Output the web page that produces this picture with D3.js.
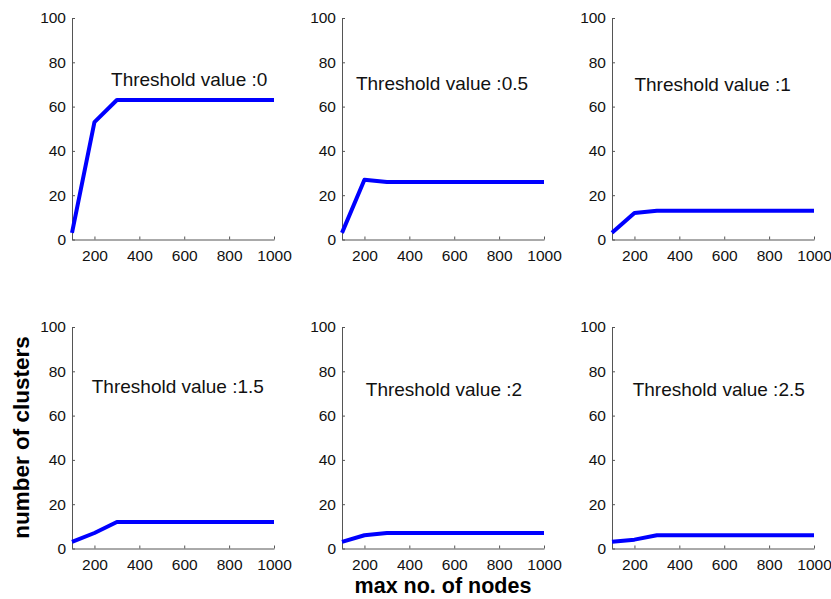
<!DOCTYPE html>
<html><head><meta charset="utf-8">
<script src="https://cdn.jsdelivr.net/npm/d3@7"></script>
<style>body{margin:0;background:#fff}svg{display:block}</style>
</head><body>
<svg id="c" width="831" height="599"></svg>
<script>
const nodes = [100,200,300,400,500,600,700,800,900,1000];
const thresholds = ["0","0.5","1","1.5","2","2.5"];
const series0   = [3,53,63,63,63,63,63,63,63,63];
const series05  = [3,27,26,26,26,26,26,26,26,26];
const series1   = [3,12,13,13,13,13,13,13,13,13];
const series15  = [3,7,12,12,12,12,12,12,12,12];
const series2   = [3,6,7,7,7,7,7,7,7,7];
const series25  = [3,4,6,6,6,6,6,6,6,6];
const allSeries = [series0,series05,series1,series15,series2,series25];
const xTicks = [200,400,600,800,1000];
const yTicks = [0,20,40,60,80,100];
// annotation anchor in data units (x, y baseline)
const labelX = [274,162,200,188,206,192];
const labelY = [69.5,67.3,66.9,70.2,68.7,68.7];

const svg = d3.select("#c");
const lefts = [72,342,612];
const tops = [18,327];
const W = 202, H = 221.5;
const FONT = "Liberation Sans, Arial, Helvetica, sans-serif";

allSeries.forEach((vals,i)=>{
  const col = i%3, row = Math.floor(i/3);
  const g = svg.append("g").attr("transform",`translate(${lefts[col]},${tops[row]})`);
  const x = d3.scaleLinear().domain([100,1000]).range([0,W]);
  const y = d3.scaleLinear().domain([0,100]).range([H,0]);
  const xa = g.append("g").attr("transform",`translate(0,${H})`)
    .call(d3.axisBottom(x).tickValues(xTicks).tickFormat(d3.format("d")).tickSizeInner(-3).tickSizeOuter(0).tickPadding(10));
  const ya = g.append("g")
    .call(d3.axisLeft(y).tickValues(yTicks).tickFormat(d3.format("d")).tickSizeInner(-3).tickSizeOuter(0).tickPadding(6));
  [xa,ya].forEach(a=>{
    a.select(".domain").attr("stroke","#555").attr("stroke-width",1);
    a.selectAll(".tick line").attr("stroke","#555");
    a.selectAll("text").attr("font-family",FONT).attr("font-size",15.5).attr("fill","#111");
  });
  g.append("path").datum(vals.map((v,k)=>[nodes[k],v]))
    .attr("fill","none").attr("stroke","#0000ff").attr("stroke-width",4)
    .attr("stroke-linejoin","round")
    .attr("d",d3.line().x(d=>x(d[0])).y(d=>y(d[1])));
  g.append("text").attr("x",x(labelX[i])).attr("y",y(labelY[i]))
    .attr("font-family",FONT).attr("font-size",19)
    .attr("fill","#111").text("Threshold value :"+thresholds[i]);
});

svg.append("text").attr("x",443).attr("y",593)
  .attr("text-anchor","middle").attr("font-family",FONT)
  .attr("font-weight","bold").attr("font-size",21.5).attr("fill","#000").text("max no. of nodes");
svg.append("text").attr("transform","translate(29,437.5) rotate(-90)")
  .attr("text-anchor","middle").attr("font-family",FONT)
  .attr("font-weight","bold").attr("font-size",22.5).attr("fill","#000").text("number of clusters");
</script>
</body></html>
